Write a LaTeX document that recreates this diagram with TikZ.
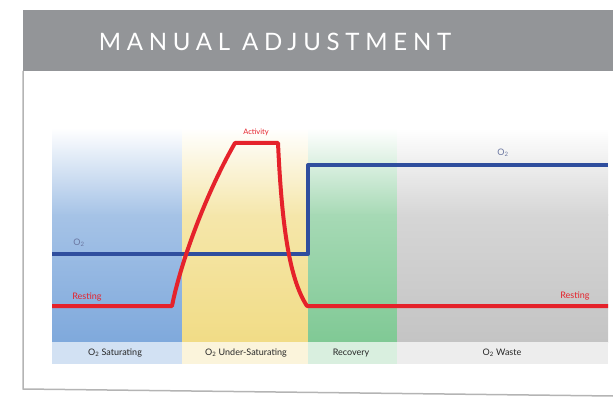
\documentclass[tikz,border=0pt]{standalone}
\usepackage{fontspec}
\setmainfont{Lato}
\usetikzlibrary{calc}

\definecolor{hdrgray}{HTML}{939598}
\definecolor{framegray}{HTML}{B4B4B4}
\definecolor{satblue}{HTML}{7FA9DC}
\definecolor{undyellow}{HTML}{F1DC86}
\definecolor{recgreen}{HTML}{80C995}
\definecolor{wastegray}{HTML}{C4C4C4}
\definecolor{linered}{HTML}{E5222B}
\definecolor{lineblue}{HTML}{2F4E9E}
\definecolor{otwolbl}{HTML}{6A76A0}

\tikzset{
  bandtop/.style={top color=white, bottom color=#1!70},
  bandbot/.style={top color=#1!70, bottom color=#1},
  rowcell/.style={fill=#1},
  curve/.style={line width=4pt, line join=round},
  rowlabel/.style={font=\fontsize{9}{10}\selectfont, text=black!85},
  redlabel/.style={font=\fontsize{9}{10}\selectfont, text=linered}
}

\begin{document}
\begin{tikzpicture}[x=1pt,y=-1pt]
\useasboundingbox (0,0) rectangle (613,398);

% header bar
  \fill[hdrgray] (23,10) rectangle (613,71);
  \node[text=white, font=\fontsize{24}{24}\selectfont\addfontfeatures{LetterSpace=24}] (title) at (275,42) {MANUAL ADJUSTMENT};

% frame
  \draw[framegray, line width=1.5pt] (23,71) -- (23,389) -- (613,396);

% bands, upper fade
  \shade[bandtop=satblue] (52,128) rectangle (182,215.5);
  \shade[bandtop=undyellow] (182,128) rectangle (308,215.5);
  \shade[bandtop=recgreen] (308,128) rectangle (397,215.5);
  \shade[bandtop=wastegray] (397,128) rectangle (608,215.5);

% bands, lower part
  \shade[bandbot=satblue] (52,215) rectangle (182,342);
  \shade[bandbot=undyellow] (182,215) rectangle (308,342);
  \shade[bandbot=recgreen] (308,215) rectangle (397,342);
  \shade[bandbot=wastegray] (397,215) rectangle (608,342);

% label row
  \fill[rowcell=satblue!35] (52,342) rectangle (182,364);
  \fill[rowcell=undyellow!30] (182,342) rectangle (308,364);
  \fill[rowcell=recgreen!30] (308,342) rectangle (397,364);
  \fill[rowcell=wastegray!30] (397,342) rectangle (608,364);

  \node[rowlabel] (satlbl) at (115,353) {O\textsubscript{2} Saturating};
  \node[rowlabel] (undlbl) at (246,353) {O\textsubscript{2} Under-Saturating};
  \node[rowlabel] (reclbl) at (351,353) {Recovery};
  \node[rowlabel] (wstlbl) at (502,353) {O\textsubscript{2} Waste};

% O2 curve
\coordinate (o0) at (52,254);
\coordinate (o1) at (308,254);
\coordinate (o2) at (308,165);
\coordinate (o3) at (608,165);

  \draw[curve, lineblue] (o0) -- (o1) -- (o2) -- (o3);

% activity curve
\coordinate (r0) at (52,306);
\coordinate (r1) at (172,306);
\coordinate (r2) at (235,143);
\coordinate (r3) at (278,143);
\coordinate (r4) at (307,306);
\coordinate (r5) at (608,306);

  \draw[curve, linered] (r0) -- (r1)
    .. controls (180,265) and (205,195) .. (r2) -- (r3)
    .. controls (282,230) and (290,280) .. (r4) -- (r5);

% curve labels
  \node[font=\fontsize{7.5}{8}\selectfont, text=linered] (actlbl) at (256,132) {Activity};
  \node[redlabel] (restl) at (87,297) {Resting};
  \node[redlabel] (restr) at (575,296) {Resting};
  \node[font=\fontsize{9}{10}\selectfont, text=otwolbl] (olow) at (79,243) {O\textsubscript{2}};
  \node[font=\fontsize{9}{10}\selectfont, text=otwolbl] (ohigh) at (503,153) {O\textsubscript{2}};

\end{tikzpicture}
\end{document}
